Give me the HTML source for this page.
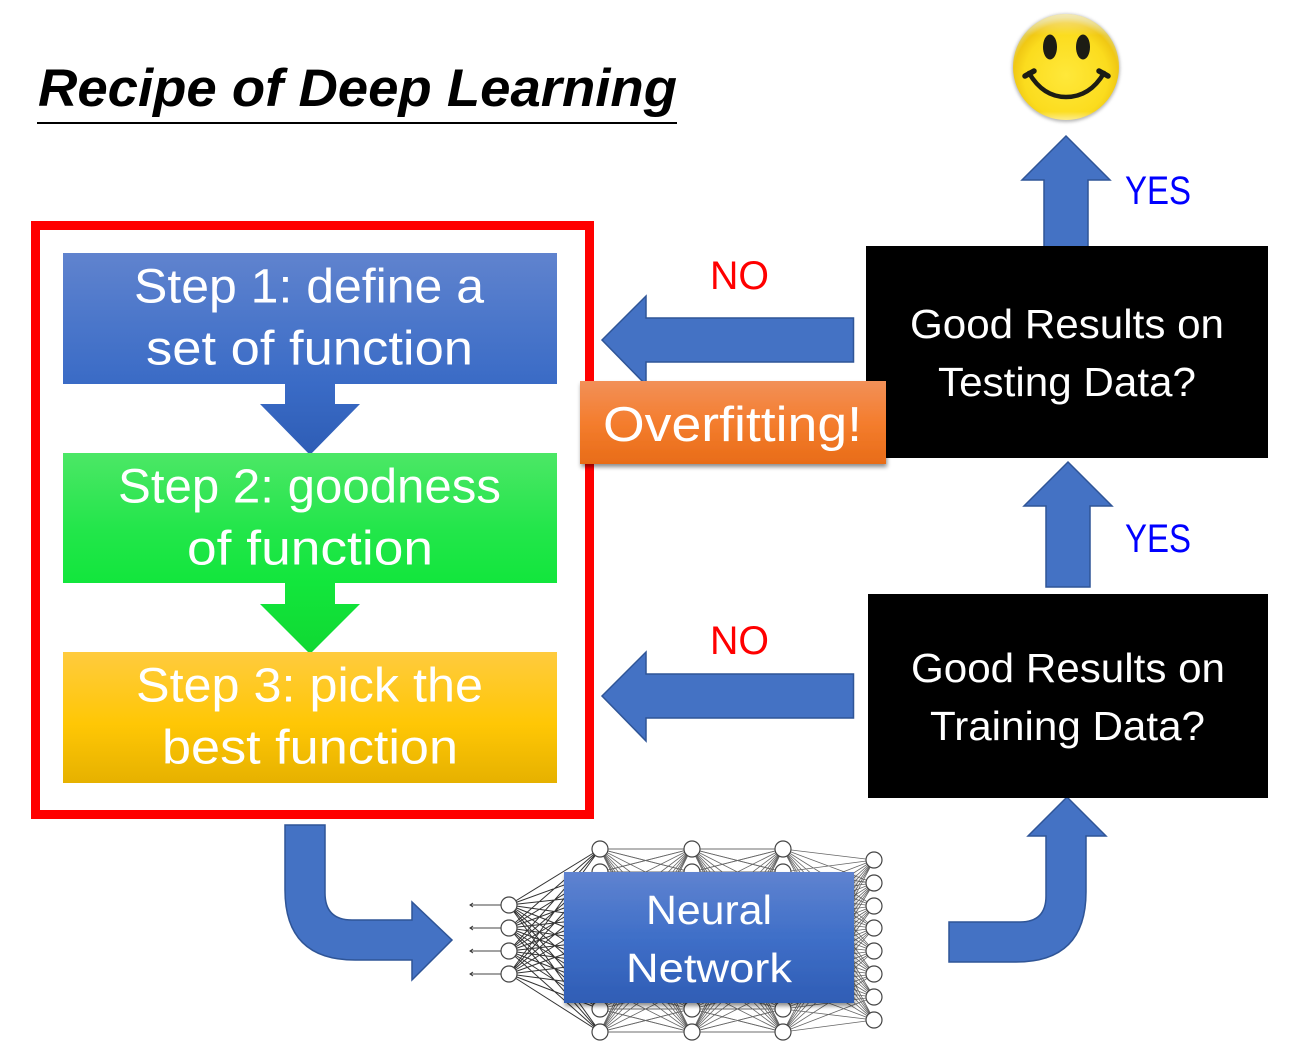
<!DOCTYPE html>
<html><head><meta charset="utf-8"><style>
html,body{margin:0;padding:0;background:#fff}
svg{display:block}
text{font-family:"Liberation Sans",sans-serif}
</style></head><body>
<svg width="1305" height="1058" viewBox="0 0 1305 1058" xmlns="http://www.w3.org/2000/svg">
<defs>
<linearGradient id="bl" x1="0" y1="0" x2="0" y2="1"><stop offset="0" stop-color="#6083ce"/><stop offset=".55" stop-color="#4a76ca"/><stop offset="1" stop-color="#3a6bc6"/></linearGradient>
<linearGradient id="nn" x1="0" y1="0" x2="0" y2="1"><stop offset="0" stop-color="#5f83d0"/><stop offset=".5" stop-color="#3f6fc8"/><stop offset="1" stop-color="#2f5db5"/></linearGradient>
<linearGradient id="gr" x1="0" y1="0" x2="0" y2="1"><stop offset="0" stop-color="#4ce766"/><stop offset=".6" stop-color="#22e64a"/><stop offset="1" stop-color="#12e63c"/></linearGradient>
<linearGradient id="ye" x1="0" y1="0" x2="0" y2="1"><stop offset="0" stop-color="#ffcb3e"/><stop offset=".55" stop-color="#ffc705"/><stop offset="1" stop-color="#e6b100"/></linearGradient>
<linearGradient id="or" x1="0" y1="0" x2="0" y2="1"><stop offset="0" stop-color="#f29058"/><stop offset=".5" stop-color="#f47d2e"/><stop offset="1" stop-color="#e86c18"/></linearGradient>
<linearGradient id="a1" x1="0" y1="0" x2="0" y2="1"><stop offset="0" stop-color="#3a6bc6"/><stop offset="1" stop-color="#2e5db5"/></linearGradient>
<linearGradient id="a2" x1="0" y1="0" x2="0" y2="1"><stop offset="0" stop-color="#12e63c"/><stop offset="1" stop-color="#10d832"/></linearGradient>
<radialGradient id="sm" cx=".5" cy=".58" r=".55"><stop offset="0" stop-color="#ffe83a"/><stop offset=".72" stop-color="#fbdc1e"/><stop offset=".9" stop-color="#f0c814"/><stop offset="1" stop-color="#e4d060"/></radialGradient>
<linearGradient id="hl" x1="0" y1="0" x2="0" y2="1"><stop offset="0" stop-color="#fff" stop-opacity=".55"/><stop offset=".2" stop-color="#fff" stop-opacity="0"/><stop offset=".92" stop-color="#fff" stop-opacity="0"/><stop offset="1" stop-color="#fff" stop-opacity=".5"/></linearGradient>
<filter id="sh" x="-5%" y="-10%" width="110%" height="125%"><feDropShadow dx="1" dy="3" stdDeviation="2" flood-color="#000" flood-opacity=".45"/></filter>
<filter id="blur" x="-10%" y="-10%" width="120%" height="120%"><feGaussianBlur stdDeviation="1.5"/></filter>
<g id="F"><path d="M0 0L91 0M0 0L91 23M0 0L91 46M0 0L91 69M0 0L91 92M0 0L91 114M0 0L91 137M0 0L91 160M0 0L91 183M0 23L91 0M0 23L91 23M0 23L91 46M0 23L91 69M0 23L91 92M0 23L91 114M0 23L91 137M0 23L91 160M0 23L91 183"/></g>
<g id="B"><use href="#F"/><use href="#F" transform="translate(91 0) scale(-1 1)"/><use href="#F" transform="translate(0 183) scale(1 -1)"/><use href="#F" transform="translate(91 183) scale(-1 -1)"/></g>
</defs>
<rect width="1305" height="1058" fill="#fff"/>

<text x="38" y="106" font-size="53" font-weight="bold" font-style="italic" fill="#000" textLength="639" lengthAdjust="spacingAndGlyphs">Recipe of Deep Learning</text>
<rect x="37" y="122" width="640" height="2" fill="#000"/>

<rect x="35.5" y="225.5" width="554" height="589" fill="#fff" stroke="#ff0000" stroke-width="9"/>

<path d="M285 384H335V404H360L310 455L260 404H285Z" fill="url(#a1)"/>
<path d="M285 583H335V604H360L310 654L260 604H285Z" fill="url(#a2)"/>
<rect x="63" y="253" width="494" height="131" fill="url(#bl)"/>
<rect x="63" y="453" width="494" height="130" fill="url(#gr)"/>
<rect x="63" y="652" width="494" height="131" fill="url(#ye)"/>
<g fill="#fff" font-size="48.5">
<text x="134" y="302.5" textLength="350" lengthAdjust="spacingAndGlyphs">Step 1: define a</text>
<text x="146" y="364.5" textLength="327" lengthAdjust="spacingAndGlyphs">set of function</text>
<text x="118" y="502.5" textLength="383" lengthAdjust="spacingAndGlyphs">Step 2: goodness</text>
<text x="187" y="564.5" textLength="246" lengthAdjust="spacingAndGlyphs">of function</text>
<text x="136" y="701.5" textLength="347" lengthAdjust="spacingAndGlyphs">Step 3: pick the</text>
<text x="162" y="763.5" textLength="296" lengthAdjust="spacingAndGlyphs">best function</text>
</g>

<g fill="#4472c4" stroke="#2f5597" stroke-width="1.5">
<path d="M602 340L646 296V318H853.5V362H646V385Z"/>
<path d="M602 696L646 652V674H853.5V718H646V741Z"/>
<path d="M1066 136L1110 180H1088V248H1044V180H1022Z"/>
<path d="M1068 462L1112 506H1090V587H1046V506H1024Z"/>
<path d="M285 825H325V893Q325 920 352 920H412V902L452 940L412 980V960H355Q285 960 285 890Z"/>
<path d="M949 922H1020Q1046 922 1046 896V836H1028L1067 797L1106 836H1086V892Q1086 962 1016 962H949Z"/>
</g>

<rect x="866" y="246" width="402" height="212" fill="#000"/>
<rect x="868" y="594" width="400" height="204" fill="#000"/>
<g fill="#fff" font-size="41">
<text x="910" y="338" textLength="314" lengthAdjust="spacingAndGlyphs">Good Results on</text>
<text x="938" y="396" textLength="258" lengthAdjust="spacingAndGlyphs">Testing Data?</text>
<text x="911" y="682" textLength="314" lengthAdjust="spacingAndGlyphs">Good Results on</text>
<text x="930" y="740" textLength="275" lengthAdjust="spacingAndGlyphs">Training Data?</text>
</g>

<rect x="580" y="381" width="306" height="83" fill="url(#or)" filter="url(#sh)"/>
<text x="603" y="441" font-size="49" fill="#fff" textLength="259" lengthAdjust="spacingAndGlyphs">Overfitting!</text>

<g fill="#ff0000" font-size="40">
<text x="710" y="289" textLength="59" lengthAdjust="spacingAndGlyphs">NO</text>
<text x="710" y="654" textLength="59" lengthAdjust="spacingAndGlyphs">NO</text>
</g>
<g fill="#0000ff" font-size="40">
<text x="1125" y="204" textLength="66" lengthAdjust="spacingAndGlyphs">YES</text>
<text x="1125" y="552" textLength="66" lengthAdjust="spacingAndGlyphs">YES</text>
</g>

<!-- smiley -->
<circle cx="1066" cy="68" r="54" fill="#999" filter="url(#blur)" opacity=".7"/>
<circle cx="1066" cy="67" r="53" fill="url(#sm)"/>
<circle cx="1066" cy="67" r="53" fill="url(#hl)"/>
<ellipse cx="1050" cy="47" rx="7" ry="12.5" fill="#1c1c14"/>
<ellipse cx="1083" cy="47" rx="7" ry="12.5" fill="#1c1c14"/>
<path d="M1029 73C1039 90 1052 97 1066 97C1081 97 1094 90 1104 73" fill="none" stroke="#1c1c14" stroke-width="4.5" stroke-linecap="round"/>
<path d="M1025 76L1034 71M1108 76L1099 71" stroke="#1c1c14" stroke-width="5.5" stroke-linecap="round"/>

<!-- network -->
<g stroke="#333" stroke-width="1" fill="none">
<path d="M509 905L600 849M509 905L600 872M509 905L600 895M509 905L600 918M509 905L600 941M509 905L600 963M509 905L600 986M509 905L600 1009M509 905L600 1032M509 928L600 849M509 928L600 872M509 928L600 895M509 928L600 918M509 928L600 941M509 928L600 963M509 928L600 986M509 928L600 1009M509 928L600 1032M509 951L600 849M509 951L600 872M509 951L600 895M509 951L600 918M509 951L600 941M509 951L600 963M509 951L600 986M509 951L600 1009M509 951L600 1032M509 974L600 849M509 974L600 872M509 974L600 895M509 974L600 918M509 974L600 941M509 974L600 963M509 974L600 986M509 974L600 1009M509 974L600 1032"/>
<path d="M509 905H470M509 928H470M509 951H470M509 974H470" stroke="#444"/>
<path d="M473 903L470 905L473 907M473 926L470 928L473 930M473 949L470 951L473 953M473 972L470 974L473 976"/>
</g>
<g stroke="#666" stroke-width=".8" fill="none">
<use href="#B" transform="translate(600 849)"/>
<use href="#B" transform="translate(692 849)"/>
<path d="M783 849L874 860M783 872L874 860M783 895L874 860M783 918L874 860M783 941L874 860M783 963L874 860M783 986L874 860M783 1009L874 860M783 1032L874 860M783 849L874 883M783 872L874 883M783 895L874 883M783 918L874 883M783 941L874 883M783 963L874 883M783 986L874 883M783 1009L874 883M783 1032L874 883M783 849L874 906M783 872L874 906M783 895L874 906M783 918L874 906M783 941L874 906M783 963L874 906M783 986L874 906M783 1009L874 906M783 1032L874 906M783 849L874 928M783 872L874 928M783 895L874 928M783 918L874 928M783 941L874 928M783 963L874 928M783 986L874 928M783 1009L874 928M783 1032L874 928M783 849L874 951M783 872L874 951M783 895L874 951M783 918L874 951M783 941L874 951M783 963L874 951M783 986L874 951M783 1009L874 951M783 1032L874 951M783 849L874 974M783 872L874 974M783 895L874 974M783 918L874 974M783 941L874 974M783 963L874 974M783 986L874 974M783 1009L874 974M783 1032L874 974M783 849L874 997M783 872L874 997M783 895L874 997M783 918L874 997M783 941L874 997M783 963L874 997M783 986L874 997M783 1009L874 997M783 1032L874 997M783 849L874 1020M783 872L874 1020M783 895L874 1020M783 918L874 1020M783 941L874 1020M783 963L874 1020M783 986L874 1020M783 1009L874 1020M783 1032L874 1020"/>
</g>
<g fill="#fff" stroke="#444" stroke-width="1.2">
<circle cx="509" cy="905" r="8"/><circle cx="509" cy="928" r="8"/><circle cx="509" cy="951" r="8"/><circle cx="509" cy="974" r="8"/>
<circle cx="600" cy="849" r="8"/><circle cx="600" cy="872" r="8"/><circle cx="600" cy="1009" r="8"/><circle cx="600" cy="1032" r="8"/>
<circle cx="692" cy="849" r="8"/><circle cx="692" cy="872" r="8"/><circle cx="692" cy="1009" r="8"/><circle cx="692" cy="1032" r="8"/>
<circle cx="783" cy="849" r="8"/><circle cx="783" cy="872" r="8"/><circle cx="783" cy="1009" r="8"/><circle cx="783" cy="1032" r="8"/>
<circle cx="874" cy="860" r="8"/><circle cx="874" cy="883" r="8"/><circle cx="874" cy="906" r="8"/><circle cx="874" cy="928" r="8"/><circle cx="874" cy="951" r="8"/><circle cx="874" cy="974" r="8"/><circle cx="874" cy="997" r="8"/><circle cx="874" cy="1020" r="8"/>
</g>
<rect x="564" y="872" width="290" height="131" fill="url(#nn)" filter="url(#sh)"/>
<g fill="#fff" font-size="41">
<text x="646" y="924" textLength="126" lengthAdjust="spacingAndGlyphs">Neural</text>
<text x="626" y="982" textLength="166" lengthAdjust="spacingAndGlyphs">Network</text>
</g>
</svg>
</body></html>
